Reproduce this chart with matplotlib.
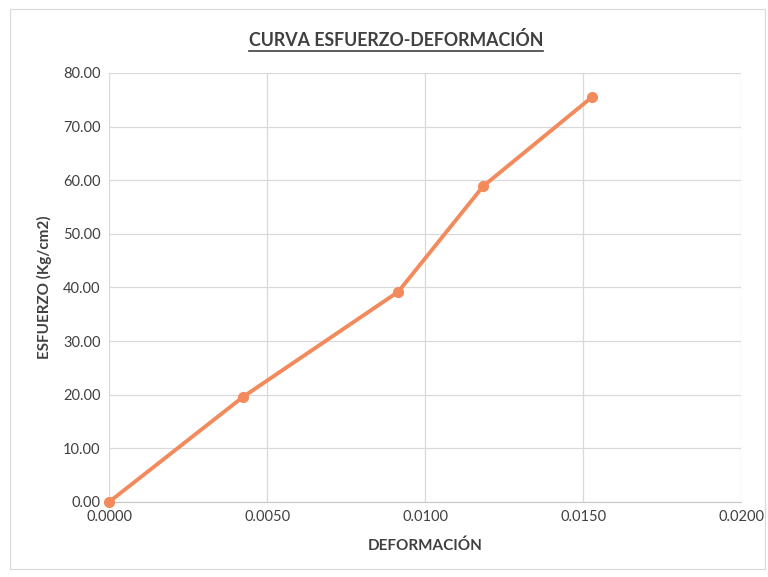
import matplotlib
matplotlib.use("Agg")
import matplotlib.pyplot as plt
from matplotlib.lines import Line2D
from matplotlib.patches import Rectangle

deformacion = [0.0, 0.00424, 0.00915, 0.01184, 0.01528]
esfuerzo = [0.0, 19.6, 39.2, 58.9, 75.5]
x_ticks = [0.0, 0.005, 0.010, 0.015, 0.020]
y_ticks = [0, 10, 20, 30, 40, 50, 60, 70, 80]

plt.rcParams['font.family'] = ['Lato', 'DejaVu Sans']

fig = plt.figure(figsize=(7.68, 5.77), dpi=100)
ax = fig.add_axes([0.142, 0.130, 0.823, 0.7435])

color = '#F28A5C'
ax.plot(deformacion, esfuerzo, color=color, lw=2.8, marker='o', ms=7,
        clip_on=False, zorder=3)

ax.set_xlim(0, 0.02)
ax.set_ylim(0, 80)
ax.set_xticks(x_ticks)
ax.set_yticks(y_ticks)
ax.set_xticklabels([f"{v:.4f}" for v in x_ticks], fontsize=10.5, color='#404040')
ax.set_yticklabels([f"{v:.2f}" for v in y_ticks], fontsize=10.5, color='#404040')
ax.tick_params(length=0, pad=6)
ax.grid(True, color='#d9d9d9', lw=0.9)
ax.set_axisbelow(True)
for s in ['top', 'right', 'left']:
    ax.spines[s].set_visible(False)
ax.spines['bottom'].set_color('#c8c8c8')

ax.set_xlabel('DEFORMACIÓN', fontsize=11, fontweight='bold', color='#404040', labelpad=10)
ax.set_ylabel('ESFUERZO (Kg/cm2)', fontsize=11, fontweight='bold', color='#404040', labelpad=8)

t = fig.text(396 / 768, 1 - 40 / 577, 'CURVA ESFUERZO-DEFORMACIÓN', ha='center', va='center',
             fontsize=12.8, fontweight='bold', color='#404040')

# outer chart border
fig.patches.append(Rectangle((10 / 768, 8 / 577), 755 / 768, 560 / 577,
                             transform=fig.transFigure, fill=False,
                             edgecolor='#d9d9d9', lw=0.8))

fig.canvas.draw()
bb = t.get_window_extent().transformed(fig.transFigure.inverted())
fig.lines.append(Line2D([bb.x0, bb.x1], [bb.y0 - 0.003, bb.y0 - 0.003],
                        transform=fig.transFigure, color='#404040', lw=1.2))

fig.savefig('out.png', dpi=100)
